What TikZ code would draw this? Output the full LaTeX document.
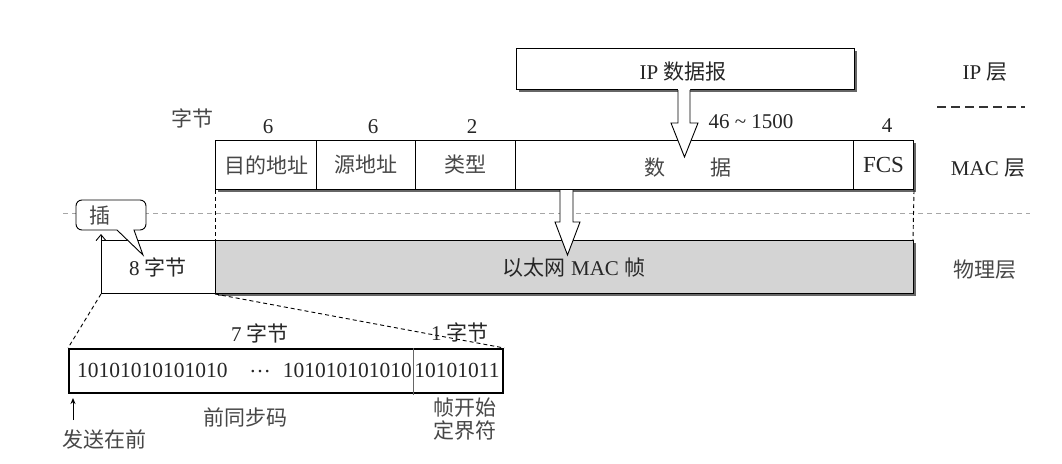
\documentclass[tikz,border=0pt]{standalone}
\usepackage{fontspec}
\setmainfont{Liberation Serif}
\newfontfamily\cjk{Noto Sans CJK SC}
\usetikzlibrary{arrows.meta}
\newcommand\zh[1]{{\cjk\fontsize{21}{24}\selectfont #1}}
\tikzset{
  latlbl/.style={font=\fontsize{21}{24}\selectfont, text=black!85, inner sep=0pt},
  zhlbl/.style={font=\fontsize{21}{24}\selectfont\cjk, text=black!72, inner sep=0pt},
  bits/.style={font=\fontsize{21.5}{24}\selectfont, text=black!85, inner sep=0pt},
  field/.style={draw=black, line width=1pt, fill=white, anchor=north west, inner sep=0pt},
  shadowc/.style={fill=black!60},
  hollow/.style={draw=black, line width=0.9pt, fill=white, line join=miter},
  blackdash/.style={draw=black, line width=0.9pt, dash pattern=on 4pt off 3pt},
}
\begin{document}
\begin{tikzpicture}[x=1pt,y=-1pt]
\useasboundingbox[fill=white] (0,0) rectangle (1062,463);

% layer separator lines
\draw[gray!70, line width=0.8pt, dash pattern=on 5pt off 4pt] (63,213) -- (1030,213);
\draw[black!80, line width=1.6pt, dash pattern=on 9pt off 5pt] (937,107) -- (1025,107);

% IP datagram box
\fill[shadowc] (519,51) rectangle (857,92);
\node[field, minimum width=338pt, minimum height=41pt] (ip) at (516,48) {};
\node[latlbl] (iptxt) at (683,72) {IP \zh{数据报}};

% MAC frame fields
\fill[shadowc] (218,143) rectangle (916,192);
\node[field, minimum width=101pt, minimum height=49pt] (dst) at (215,140) {};
\node[field, minimum width=99pt, minimum height=49pt] (src) at (316,140) {};
\node[field, minimum width=100pt, minimum height=49pt] (typ) at (415,140) {};
\node[field, minimum width=338pt, minimum height=49pt] (dat) at (515,140) {};
\node[field, minimum width=60pt, minimum height=49pt] (fcs) at (853,140) {};
\node[zhlbl] at (dst.center) {目的地址};
\node[zhlbl] at (src.center) {源地址};
\node[zhlbl] at (typ.center) {类型};
\node[zhlbl] (shu) at (655,168) {数};
\node[zhlbl] (ju) at (721,168) {据};
\node[latlbl, font=\fontsize{23}{26}\selectfont] at (fcs.center) {FCS};

% byte counts
\node[zhlbl] (zj) at (192,118) {字节};
\node[latlbl] (n1) at (268,127) {6};
\node[latlbl] (n2) at (373,127) {6};
\node[latlbl] (n3) at (472,127) {2};
\node[latlbl] (n4) at (751,122) {46 \textasciitilde{} 1500};
\node[latlbl] (n5) at (887,126) {4};

% hollow arrow IP -> MAC
\fill[white] (678,89) -- (678,123) -- (671,123) -- (684.5,157) -- (698,123) -- (690,123) -- (690,89) -- cycle;
\draw[hollow, fill=none] (678,90) -- (678,123) -- (671,123) -- (684.5,157) -- (698,123) -- (690,123) -- (690,90);

% physical layer row
\draw[blackdash] (dst.south west) -- (215,240);
\draw[blackdash] (fcs.south east) -- (913,240);
\fill[black!60] (218,243) rectangle (915.5,295.5);
\node[field, minimum width=114pt, minimum height=53pt] (pre) at (101,240) {};
\node[field, fill=black!17, minimum width=698pt, minimum height=53pt] (frm) at (215,240) {};
\node[latlbl] (frmtxt) at (574,268) {\zh{以太网} MAC \zh{帧}};
\node[latlbl] (eight) at (158,267) {8 \zh{字节}};

% hollow arrow MAC -> physical
\fill[white] (560,190) -- (560,222) -- (555,222) -- (567.5,255) -- (580,222) -- (573,222) -- (573,190) -- cycle;
\draw[hollow, fill=none] (560,190) -- (560,222) -- (555,222) -- (567.5,255) -- (580,222) -- (573,222) -- (573,190);

% insert arrow and callout
\coordinate (instip) at (101,234);
\draw[line width=0.9pt, -{Straight Barb[length=6pt,width=10pt]}] (pre.south west) -- (instip);
\draw[fill=white, line width=0.9pt] (117,230) [rounded corners=6pt] -- (76,230) -- (76,200) -- (146,200) -- (146,230) [sharp corners] -- (134,230) -- (143,255) -- cycle;
\node[zhlbl] (ins) at (100,216) {插};

% layer labels
\node[latlbl] (lip) at (985,72) {IP \zh{层}};
\node[latlbl] (lmac) at (988,168) {MAC \zh{层}};
\node[zhlbl] (lphy) at (985,270) {物理层};

% preamble expansion
\node[draw=black, line width=2.2pt, minimum width=434pt, minimum height=44pt, anchor=north west, inner sep=0pt] (pa) at (68,348) {};
\coordinate (divtop) at (413,348);
\coordinate (divbot) at (413,395);
\draw[black!60, line width=1pt] (divtop) -- (divbot);
\draw[blackdash] (pre.south west) -- (pa.north west);
\draw[blackdash] (frm.south west) -- (pa.north east);
\node[bits, anchor=west] (b1) at (77,370) {10101010101010};
\node[bits] (dots) at (260,372) {\dots};
\node[bits, anchor=east] (b2) at (412,370) {101010101010};
\node[bits] (b3) at (457,370) {10101011};
\node[latlbl] (sev) at (260,333) {7 \zh{字节}};
\node[latlbl] (one) at (460,332) {1 \zh{字节}};
\node[zhlbl] (qtb) at (245,417) {前同步码};
\node[zhlbl] (zk1) at (465,408) {帧开始};
\node[zhlbl] (zk2) at (465,431) {定界符};
\coordinate (sendbot) at (73,420);
\coordinate (sendtop) at (73,398);
\draw[line width=1pt, -{Stealth[length=6pt,width=5pt]}] (sendbot) -- (sendtop);
\node[zhlbl] (send) at (104,439) {发送在前};
\end{tikzpicture}
\end{document}
